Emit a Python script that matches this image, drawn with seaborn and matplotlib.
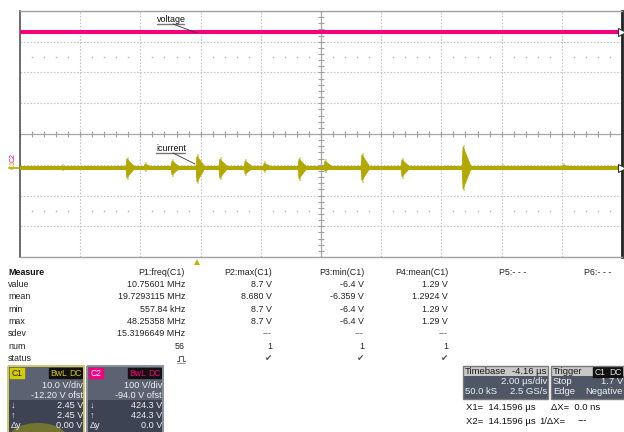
import numpy as np
import matplotlib
matplotlib.use("Agg")
import matplotlib.pyplot as plt
import seaborn as sns
from matplotlib.patches import Rectangle, Ellipse

# scope settings
t_div = 2.0                     # us/div
c1_scale, c1_centre = 10.0, 12.2    # V/div, V at screen centre (ofst -12.20 V)
c2_scale, c2_centre = 100.0, 94.0   # V/div, V at screen centre (ofst -94.0 V)

# C2 (voltage) trace level
voltage_t = [0.0, 20.0]
voltage_v = [424.3, 424.3]

# C1 (icurrent) trace: baseline + ringing bursts
current_t = [0.0, 20.0]
current_v = [1.29, 1.29]
burst_t = [1.40, 3.55, 4.15, 5.05, 5.88, 6.64, 7.48, 8.11, 9.27, 10.13, 11.36, 12.69, 14.72, 16.01, 18.04]
burst_hi = [2.4, 4.8, 3.1, 4.1, 5.7, 4.7, 4.1, 3.4, 4.7, 4.1, 6.1, 4.5, 8.7, 2.4, 2.8]
burst_lo = [0.2, -2.8, -0.2, -1.8, -4.1, -2.8, -1.5, -0.5, -3.1, -0.5, -3.6, -2.4, -6.4, 0.5, 0.5]

# measurement table ("pulse" = status symbol drawn as a shape, no font has it)
meas_rows = ["value", "mean", "min", "max", "sdev", "num", "status"]
meas_heads = ["P1:freq(C1)", "P2:max(C1)", "P3:min(C1)", "P4:mean(C1)"]
p1_vals = ["10.75601 MHz", "19.7293115 MHz", "557.84 kHz", "48.25358 MHz", "15.3196649 MHz", "56", "pulse"]
p2_vals = ["8.7 V", "8.680 V", "8.7 V", "8.7 V", "---", "1", "\u2714"]
p3_vals = ["-6.4 V", "-6.359 V", "-6.4 V", "-6.4 V", "---", "1", "\u2714"]
p4_vals = ["1.29 V", "1.2924 V", "1.29 V", "1.29 V", "---", "1", "\u2714"]

PINK = "#f5007f"
YEL = "#b3a800"
GRID = "#c4c4c4"

sns.set_style("white")
plt.rcParams['font.family'] = ['Liberation Sans', 'DejaVu Sans']

fig = plt.figure(figsize=(6.24, 4.32), dpi=100)
ax = fig.add_axes([20/624, 1-257/432, 602/624, 246/432])
ax.set_xlim(0, 10*t_div)
ax.set_ylim(c1_centre - 4*c1_scale, c1_centre + 4*c1_scale)
ax.set_xticks(np.arange(0, 10*t_div + 0.01, t_div))
ax.set_yticks(np.arange(c1_centre - 4*c1_scale, c1_centre + 4*c1_scale + 0.01, c1_scale))
ax.grid(True, color=GRID, ls=(0, (1.5, 1.5)), lw=0.8)
ax.tick_params(length=0, labelbottom=False, labelleft=False)
for s, c, w in [("left", "#555555", 1.2), ("top", "#a0a0a0", 1.0), ("bottom", "#a0a0a0", 1.0), ("right", "#222222", 2.0)]:
    ax.spines[s].set_color(c)
    ax.spines[s].set_linewidth(w)

# centre axes with minor ticks
ax.axhline(c1_centre, color="#a8a8a8", lw=0.9)
ax.axvline(5*t_div, color="#a8a8a8", lw=0.9)
mx = np.arange(0, 10*t_div + 0.01, t_div/5)
ax.plot(mx, [c1_centre]*len(mx), ls="none", marker="|", ms=4, color="#a0a0a0", mew=0.8)
my = np.arange(c1_centre - 4*c1_scale, c1_centre + 4*c1_scale + 0.01, c1_scale/5)
ax.plot([5*t_div]*len(my), my, ls="none", marker="_", ms=4, color="#a0a0a0", mew=0.8)
# 10/90 dotted guides
dots = [x for x in mx if abs(x/t_div - round(x/t_div)) > 1e-6]
for k in (2.5, -2.5):
    ax.plot(dots, [c1_centre + k*c1_scale]*len(dots), ls="none", marker="o", ms=1.2, color="#b8b8b8", mew=0)

# C1 current trace
for t, hi, lo in zip(burst_t, burst_hi, burst_lo):
    ax.vlines(t + 0.03, lo, hi, color="#d8d27a", lw=1.2, zorder=3)
    ax.fill([t - 0.03, t, t + 0.28, t], [current_v[0], hi - 0.7, current_v[0], lo + 0.7],
            color=YEL, lw=0.6, ec=YEL, zorder=4)
sns.lineplot(x=current_t, y=current_v, ax=ax, color=YEL, lw=2.9, zorder=4)

# C2 voltage trace on its own scale
ax2 = ax.twinx()
ax2.set_ylim(c2_centre - 4*c2_scale, c2_centre + 4*c2_scale)
ax2.set_yticks([])
for s in ax2.spines.values():
    s.set_visible(False)
sns.lineplot(x=voltage_t, y=voltage_v, ax=ax2, color=PINK, lw=2.9)
ax2.plot([10*t_div], [voltage_v[-1]], marker=">", ms=6, mfc="white", mec="#333333", mew=0.8, clip_on=False, zorder=6)
ax.plot([10*t_div], [current_v[-1]], marker=">", ms=6, mfc="white", mec="#333333", mew=0.8, clip_on=False, zorder=6)
ax.set_ylabel("")
ax2.set_ylabel("")

# overlay in pixel coordinates for labels and panels
ov = fig.add_axes([0, 0, 1, 1])
ov.set_xlim(0, 624)
ov.set_ylim(432, 0)
ov.axis("off")
ov.patch.set_alpha(0)

fs = 6.4
# trace annotations
ov.text(157, 19.5, "voltage", fontsize=fs, color="#111111", va="center")
ov.plot([157, 184], [23.5, 23.5], color="#777777", lw=1)
ov.plot([173, 197], [24, 33], color="#333333", lw=0.6)
ov.text(156, 148.5, "icurrent", fontsize=fs, color="#111111", va="center")
ov.plot([156, 185], [152.5, 152.5], color="#777777", lw=1)
ov.plot([173, 195], [153, 164], color="#333333", lw=0.6)
# channel markers on the left
ov.text(13, 157, "C2", fontsize=5, color=PINK, rotation=90, ha="center", va="center")
ov.text(13, 164.5, "C1", fontsize=5, color=YEL, rotation=90, ha="center", va="center")
ov.plot([9, 19], [168, 168], color=YEL, lw=1.2)
# trigger position marker
ov.plot([197], [262], marker="^", ms=5, color="#c4b400", mew=0)

# measurement table
col_x = [185, 272, 364, 448]
row_y = [284.5 + 12.35*i for i in range(len(meas_rows))]
ov.text(8, 272.5, "Measure", fontsize=fs, fontweight="bold", va="center", color="#111111")
for y, r in zip(row_y, meas_rows):
    ov.text(8, y, r, fontsize=fs, va="center", color="#222222")
for x, h, vals in zip(col_x, meas_heads, [p1_vals, p2_vals, p3_vals, p4_vals]):
    ov.text(x, 272.5, h, fontsize=fs, ha="right", va="center", color="#222222")
    for y, v in zip(row_y, vals):
        if v == "pulse":
            cx = x - 4
            ov.plot([cx - 4, cx - 2, cx - 2, cx + 2, cx + 2, cx + 4],
                    [y + 2.5, y + 2.5, y - 2.5, y - 2.5, y + 2.5, y + 2.5], color="#666666", lw=0.8)
            ov.plot([cx - 4, cx + 4], [y + 4, y + 4], color="#888888", lw=0.6)
            continue
        c = "#555555" if v in ("\u2714", "---") else "#222222"
        ov.text(x, y, v, fontsize=fs, ha="right", va="center", color=c)
ov.text(499, 272.5, "P5:- - -", fontsize=fs, va="center", color="#222222")
ov.text(584, 272.5, "P6:- - -", fontsize=fs, va="center", color="#222222")

# channel boxes
def badge(x, y, w, txt, bg, fg):
    ov.add_patch(Rectangle((x, y), w, 10, color=bg, zorder=3))
    ov.text(x + w/2, y + 5.2, txt, fontsize=6.2, color=fg, ha="center", va="center", zorder=4)

def chan_box(x0, border, name, col, name_fg, lines):
    ov.add_patch(Rectangle((x0, 366), 76, 34, fc="#5b6272", ec="none", zorder=1))
    ov.add_patch(Rectangle((x0, 400), 76, 32, fc="#3d4352", ec="none", zorder=1))
    if name == "C1":
        ov.add_patch(Ellipse((x0 + 30, 438), 58, 30, fc="#c8c000", alpha=0.4, ec="none", zorder=1.5))
    ov.add_patch(Rectangle((x0, 366), 76, 70, fc="none", ec=border, lw=1.4, zorder=5))
    badge(x0 + 2, 368, 14, name, col, name_fg)
    badge(x0 + 41, 368, 19, "BwL", "#111111", col)
    badge(x0 + 61, 368, 13, "DC", "#111111", col)
    for i, (lab, val) in enumerate(lines):
        y = 385 + 10*i
        if lab:
            ov.text(x0 + 3, y, lab, fontsize=6.6, color="#f0f0f0", va="center", zorder=4)
        ov.text(x0 + 75, y, val, fontsize=6.6, color="#f0f0f0", ha="right", va="center", zorder=4)

chan_box(8, "#cfc86a", "C1", "#d2cc00", "#222222",
         [("", "10.0 V/div"), ("", "-12.20 V ofst"), ("\u2193", "2.45 V"), ("\u2191", "2.45 V"), ("\u0394y", "0.00 V")])
chan_box(87, "#8a909c", "C2", PINK, "white",
         [("", "100 V/div"), ("", "-94.0 V ofst"), ("\u2193", "424.3 V"), ("\u2191", "424.3 V"), ("\u0394y", "0.0 V")])

# timebase / trigger boxes
def info_box(x0, w, head_l, head_r, rows):
    ov.add_patch(Rectangle((x0, 366), w, 10, fc="#c8c8c8", ec="none", zorder=1))
    ov.add_patch(Rectangle((x0, 376), w, 23, fc="#4f5666", ec="none", zorder=1))
    ov.add_patch(Rectangle((x0, 366), w, 33, fc="none", ec="#7a7a7a", lw=1, zorder=5))
    ov.text(x0 + 2, 371, head_l, fontsize=6.8, color="#1a1a1a", va="center", zorder=4)
    if head_r:
        ov.text(x0 + w - 1, 371, head_r, fontsize=6.8, color="#1a1a1a", ha="right", va="center", zorder=4)
    for i, (l, r) in enumerate(rows):
        y = 382 + 10*i
        ov.text(x0 + 2, y, l, fontsize=6.8, color="#f0f0f0", va="center", zorder=4)
        ov.text(x0 + w - 1, y, r, fontsize=6.8, color="#f0f0f0", ha="right", va="center", zorder=4)

info_box(463, 85, "Timebase", "-4.16 \u00b5s", [("", "2.00 \u00b5s/div"), ("50.0 kS", "2.5 GS/s")])
info_box(551, 73, "Trigger", "", [("Stop", "1.7 V"), ("Edge", "Negative")])
badge(593, 367, 14, "C1", "#111111", "#e0e0e0")
badge(608, 367, 14, "DC", "#111111", "#e0e0e0")

ov.text(466, 408, "X1=  14.1596 \u00b5s", fontsize=6.8, color="#111111", va="center")
ov.text(551, 408, "\u0394X=  0.0 ns", fontsize=6.8, color="#111111", va="center")
ov.text(466, 421, "X2=  14.1596 \u00b5s", fontsize=6.8, color="#111111", va="center")
ov.text(539, 421, "1/\u0394X=", fontsize=6.8, color="#111111", va="center")
ov.text(578, 421, "---", fontsize=6.8, color="#111111", va="center")

fig.savefig("out.png", dpi=100)
